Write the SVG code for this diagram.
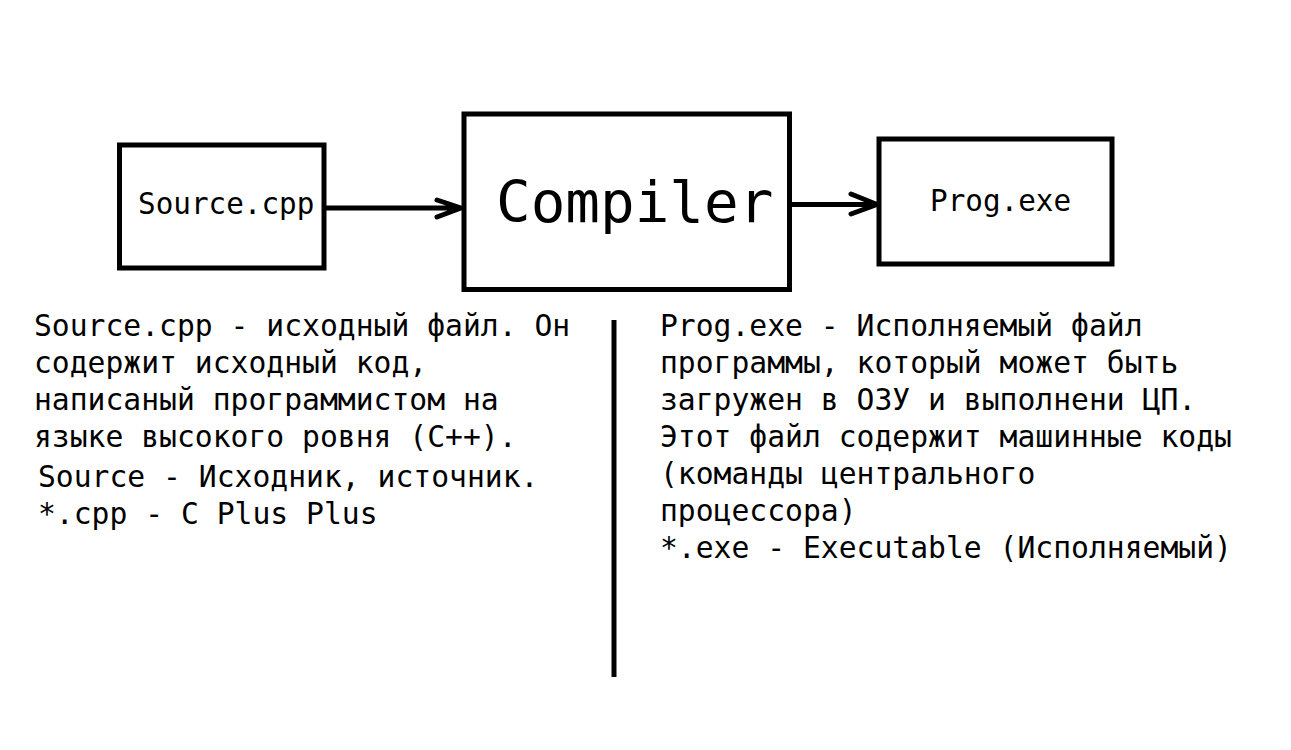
<svg xmlns="http://www.w3.org/2000/svg" width="1291" height="750" viewBox="0 0 1291 750">
<style>
.box{fill:none;stroke:#000;stroke-width:5}
.t{font-family:"DejaVu Sans Mono","Liberation Mono",monospace;font-size:29.7px;fill:#000}
.bt{font-family:"DejaVu Sans Mono","Liberation Mono",monospace;font-size:29.3px;fill:#000}
.big{font-family:"DejaVu Sans Mono","Liberation Mono",monospace;font-size:57.6px;fill:#000}
.ln{fill:none;stroke:#000;stroke-width:5;stroke-linecap:round;stroke-linejoin:round}
</style>
<rect width="1291" height="750" fill="#fff"/>
<g id="source">
<rect class="box" x="119.5" y="145" width="204.5" height="123"/>
<text class="bt" x="138" y="214">Source.cpp</text>
</g>
<g id="compiler">
<rect class="box" x="464" y="114" width="325.5" height="175.5"/>
<text class="big" x="496" y="222">Compiler</text>
</g>
<g id="prog">
<rect class="box" x="879" y="139" width="233" height="125"/>
<text class="bt" x="930" y="211">Prog.exe</text>
</g>
<g id="connectors">
<path class="ln" d="M326 208 H461 M437 200 L461 208 L437 217"/>
<path class="ln" d="M791 204.5 H877 M851 194 L877 204.5 L851 214"/>
</g>
<g id="divider">
<line x1="614" y1="320" x2="614" y2="677" stroke="#000" stroke-width="5"/>
</g>
<g id="left-notes">
<text class="t" x="34" y="336">Source.cpp - исходный файл. Он</text>
<text class="t" x="34" y="373">содержит исходный код,</text>
<text class="t" x="34" y="410">написаный программистом на</text>
<text class="t" x="34" y="447">языке высокого ровня (C++).</text>
<text class="t" x="38" y="487">Source - Исходник, источник.</text>
<text class="t" x="38" y="524">*.cpp - C Plus Plus</text>
</g>
<g id="right-notes">
<text class="t" x="660" y="336">Prog.exe - Исполняемый файл</text>
<text class="t" x="660" y="373">программы, который может быть</text>
<text class="t" x="660" y="410">загружен в ОЗУ и выполнени ЦП.</text>
<text class="t" x="660" y="447">Этот файл содержит машинные коды</text>
<text class="t" x="660" y="484">(команды центрального</text>
<text class="t" x="660" y="521">процессора)</text>
<text class="t" x="660" y="558">*.exe - Executable (Исполняемый)</text>
</g>
</svg>
